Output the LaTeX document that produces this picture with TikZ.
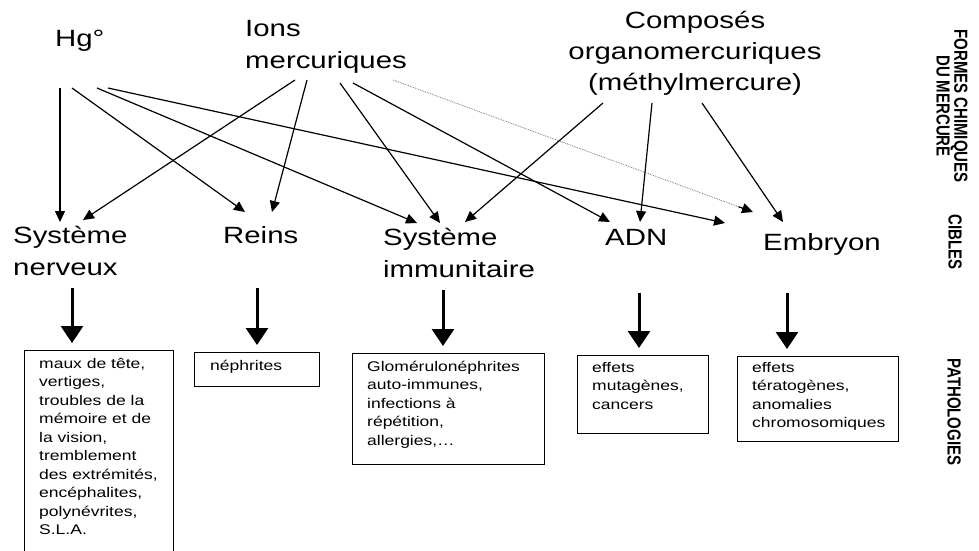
\documentclass[tikz,border=0pt]{standalone}
\usepackage{fontspec}
\usepackage{graphicx}
\setmainfont{Liberation Sans}[FakeStretch=1.25]
\newfontfamily\lblfont{Liberation Sans}
\usetikzlibrary{arrows.meta,calc}
\begin{document}
\begin{tikzpicture}[x=1pt,y=-1pt,
  big/.style={font=\fontsize{23.5}{32}\selectfont, inner sep=0pt, align=left, anchor=base west},
  ptext/.style={font=\fontsize{14}{18.5}\selectfont, inner sep=0pt, align=left, anchor=base west},
  pbox/.style={draw, line width=1.3pt, inner sep=0pt, anchor=north west},
  thinarrow/.style={-{Triangle[length=11pt,width=10pt]}, line width=1.2pt},
  dotline/.style={draw=black!55, densely dotted, line width=0.8pt},
  tiponly/.style={-{Triangle[length=11pt,width=10pt]}, solid, draw=black, fill=black, line width=1.2pt},
  thickarrow/.style={-{Triangle[length=17pt,width=22pt]}, line width=3pt, shorten >=7pt},
  side/.style={font=\lblfont\bfseries\fontsize{15}{14}\selectfont, rotate=-90, align=center, inner sep=0pt}]
\useasboundingbox (0,0) rectangle (979,550);

% sources (anchor = baseline of the last line)
\node[big] (hg) at (55,46) {Hg°};
\node[big] (ions) at (245,68) {Ions\\mercuriques};
\node[big, align=center, anchor=base, font=\fontsize{23.5}{31}\selectfont] (comp) at (695,90) {Composés\\organomercuriques\\(méthylmercure)};

% targets
\node[big] (sn) at (13,275) {Système\\nerveux};
\node[big] (reins) at (223,243) {Reins};
\node[big] (si) at (383,277) {Système\\immunitaire};
\node[big] (adn) at (605,245) {ADN};
\node[big] (emb) at (763,250) {Embryon};

% side labels
\node[side] (lforms) at (952,106) {\scalebox{1}[1.26]{FORMES CHIMIQUES}\\\scalebox{1}[1.26]{DU MERCURE}};
\node[side] (lcibles) at (955,242) {\scalebox{1}[1.26]{CIBLES}};
\node[side] (lpath) at (954,412) {\scalebox{1}[1.26]{PATHOLOGIES}};

% ports
\coordinate (hg1) at (60,88);   \coordinate (hg2) at (72,88);
\coordinate (hg3) at (97,88);   \coordinate (hg4) at (108,88);
\coordinate (io1) at (295,80);  \coordinate (io2) at (307,80);
\coordinate (io3) at (340,83);  \coordinate (io4) at (353,83);
\coordinate (io5) at (393,80);
\coordinate (co1) at (603,103); \coordinate (co2) at (652,103);
\coordinate (co3) at (702,103);
\coordinate (sn1) at (60,222);  \coordinate (sn2) at (83,220);
\coordinate (re1) at (245,212); \coordinate (re2) at (272,212);
\coordinate (si1) at (417,223); \coordinate (si2) at (440,223);
\coordinate (si3) at (465,222);
\coordinate (ad1) at (610,222); \coordinate (ad2) at (640,222);
\coordinate (em1) at (725,223); \coordinate (em2) at (753,212);
\coordinate (em3) at (783,222);

\draw[thinarrow] (hg1) -- (sn1);
\draw[thinarrow] (hg2) -- (re1);
\draw[thinarrow] (hg3) -- (si1);
\draw[thinarrow] (hg4) -- (em1);
\draw[thinarrow] (io1) -- (sn2);
\draw[thinarrow] (io2) -- (re2);
\draw[thinarrow] (io3) -- (si2);
\draw[thinarrow] (io4) -- (ad1);
\draw[dotline, shorten >=10pt] (io5) -- (em2);
\draw[tiponly] ($(io5)!0.96!(em2)$) -- (em2);
\draw[thinarrow] (co1) -- (si3);
\draw[thinarrow] (co2) -- (ad2);
\draw[thinarrow] (co3) -- (em3);

% pathology boxes
\node[pbox, minimum width=149pt, minimum height=215pt] (p1) at (24,350) {};
\node[pbox, minimum width=125pt, minimum height=34pt] (p2) at (194,352) {};
\node[pbox, minimum width=192pt, minimum height=111pt] (p3) at (352,353) {};
\node[pbox, minimum width=131pt, minimum height=78pt] (p4) at (577,355) {};
\node[pbox, minimum width=161pt, minimum height=85pt] (p5) at (737,356) {};

\node[ptext] (t1) at ([shift={(15,184.5)}]p1.north west) {maux de tête,\\vertiges,\\troubles de la\\mémoire et de\\la vision,\\tremblement\\des extrémités,\\encéphalites,\\polynévrites,\\S.L.A.};
\node[ptext] (t2) at ([shift={(16,18)}]p2.north west) {néphrites};
\node[ptext] (t3) at ([shift={(15,92)}]p3.north west) {Glomérulonéphrites\\auto-immunes,\\infections à\\répétition,\\allergies,\dots};
\node[ptext] (t4) at ([shift={(15,54)}]p4.north west) {effets\\mutagènes,\\cancers};
\node[ptext] (t5) at ([shift={(15,71.5)}]p5.north west) {effets\\tératogènes,\\anomalies\\chromosomiques};

% thick arrows
\coordinate (snd) at (72,288);
\coordinate (red) at (257,288);
\coordinate (sid) at (443,290);
\coordinate (add) at (639,293);
\coordinate (emd) at (787,293);
\draw[thickarrow] (snd) -- (snd |- p1.north);
\draw[thickarrow] (red) -- (red |- p2.north);
\draw[thickarrow] (sid) -- (sid |- p3.north);
\draw[thickarrow] (add) -- (add |- p4.north);
\draw[thickarrow] (emd) -- (emd |- p5.north);
\end{tikzpicture}
\end{document}
